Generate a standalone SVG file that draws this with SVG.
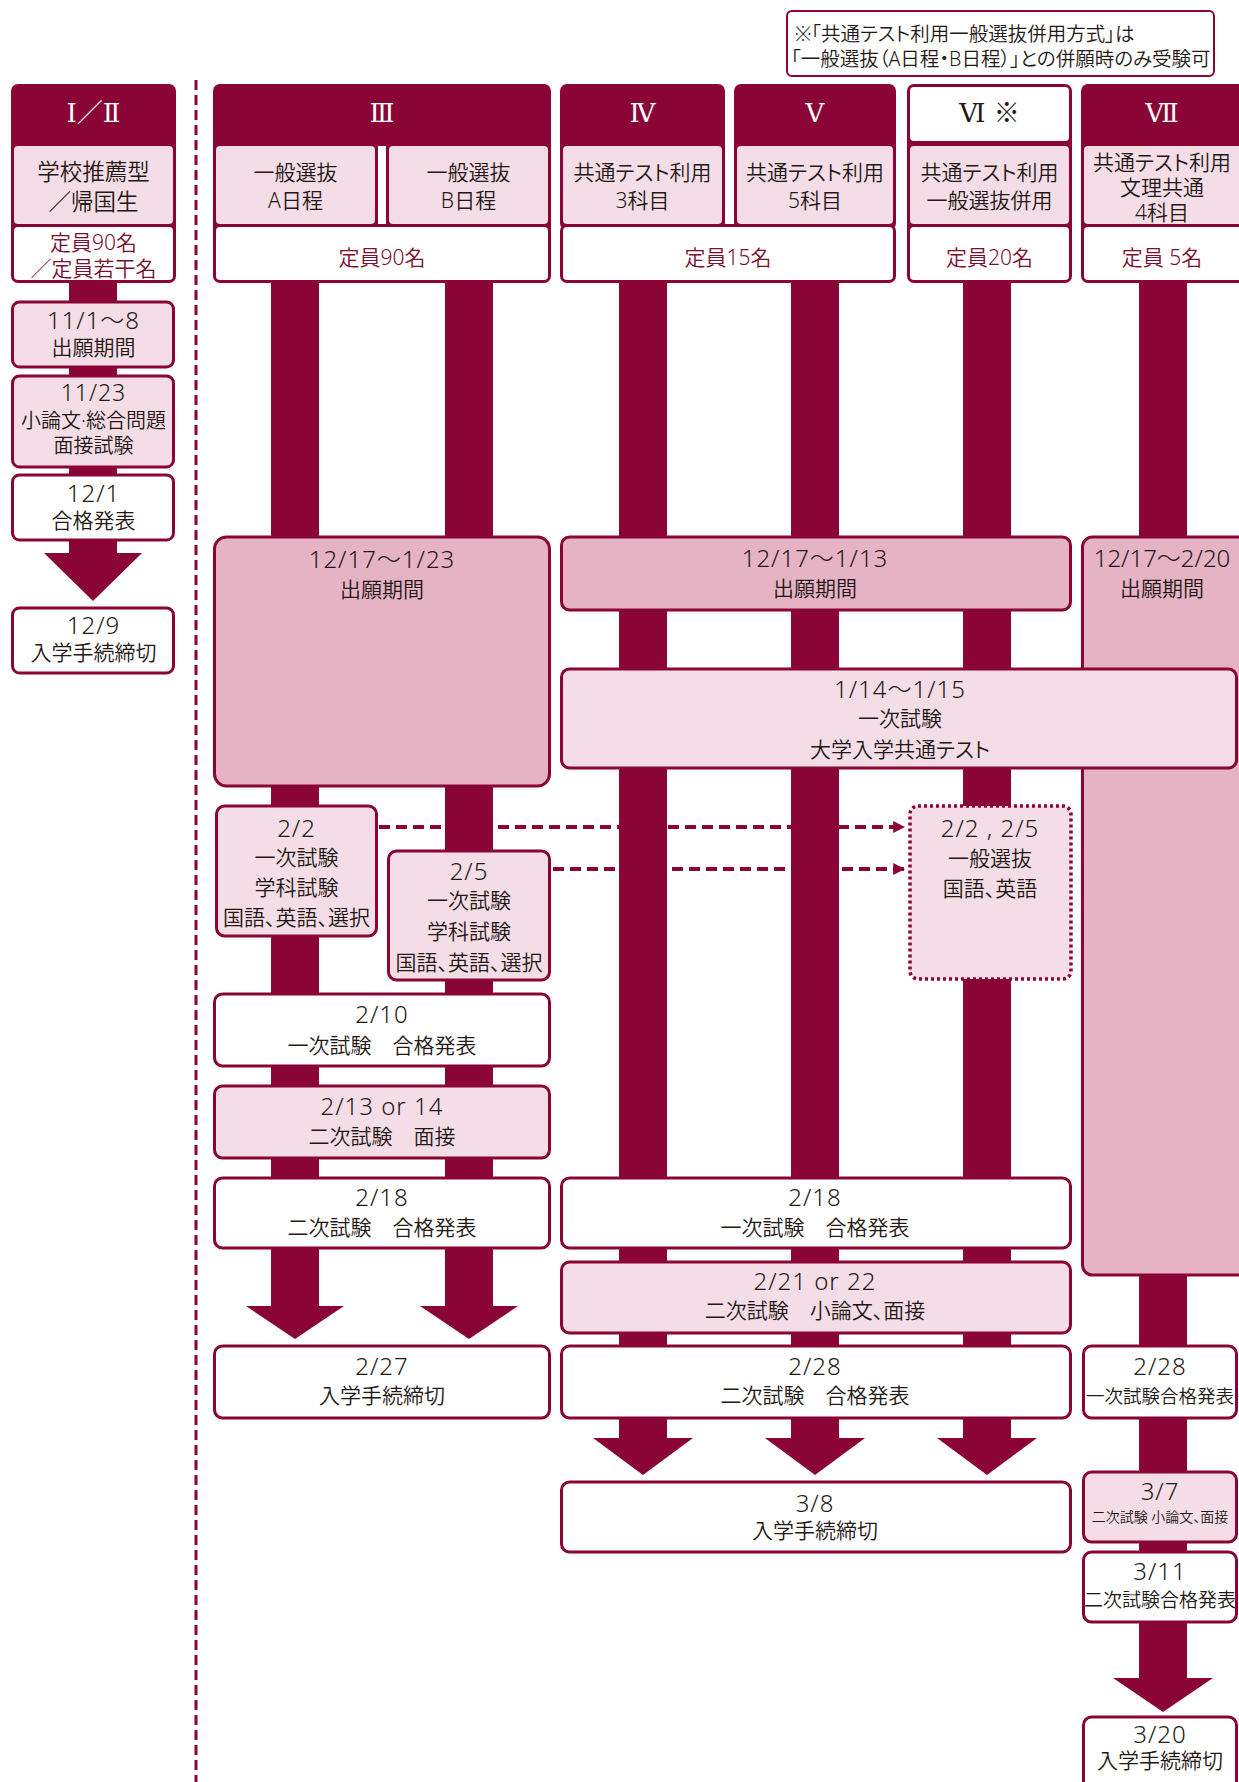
<svg xmlns="http://www.w3.org/2000/svg" width="1239" height="1782" viewBox="0 0 1239 1782">
<defs>
<style>
.dk{fill:#8a0535}
.b{stroke:#8a0535;stroke-width:3}
.w{fill:#ffffff}
.lp{fill:#f4dde6}
.dp{fill:#e6b3c5}
.t{font-family:'Noto Sans','Noto Sans CJK JP',sans-serif;font-size:21px;font-weight:350;fill:#231815;text-anchor:middle;dominant-baseline:central;font-feature-settings:"palt"}
.d{font-size:24px;font-weight:300;letter-spacing:1px}
.cap{fill:#7a1030;font-size:21px}
.h{font-family:'DejaVu Serif','Liberation Serif','Noto Sans CJK JP',serif;font-size:26px;font-weight:400;fill:#ffffff;letter-spacing:0}
.hd{fill:#231815}
.note{font-family:'Noto Sans','Noto Sans CJK JP',sans-serif;font-size:19.5px;font-weight:350;fill:#231815;dominant-baseline:central;font-feature-settings:"palt"}
.dash{stroke:#8a0535;stroke-width:4;stroke-dasharray:11 6;fill:none}
</style>
<marker id="ah" viewBox="0 0 10 10" refX="9" refY="5" markerWidth="3" markerHeight="3" orient="auto" markerUnits="strokeWidth">
<path d="M0,0 L10,5 L0,10 Z" fill="#8a0535"/>
</marker>
</defs>
<rect x="0" y="0" width="1239" height="1782" fill="#ffffff"/>

<g id="divider">
<line x1="196" y1="80" x2="196" y2="1782" stroke="#8a0535" stroke-width="3" stroke-dasharray="10 5"/>
</g>

<g id="connectors">
<line class="dash" x1="379" y1="827" x2="904" y2="827" marker-end="url(#ah)"/>
<line class="dash" x1="553" y1="869" x2="904" y2="869" marker-end="url(#ah)"/>
<g class="dk">
<rect x="69" y="280" width="48" height="276"/>
<path d="M44,553 L142,553 L93,601 Z"/>
<rect x="271" y="280" width="48" height="1028"/>
<path d="M246,1306 L344,1306 L295,1339 Z"/>
<rect x="445" y="280" width="48" height="1028"/>
<path d="M420,1306 L518,1306 L469,1339 Z"/>
<rect x="619" y="280" width="48" height="1160"/>
<path d="M593,1438 L693,1438 L643,1475 Z"/>
<rect x="791" y="280" width="48" height="1160"/>
<path d="M765,1438 L865,1438 L815,1475 Z"/>
<rect x="963" y="280" width="48" height="1160"/>
<path d="M937,1438 L1037,1438 L987,1475 Z"/>
<rect x="1139" y="280" width="48" height="1400"/>
<path d="M1113,1678 L1213,1678 L1163,1712 Z"/>
</g>
</g>

<g id="note">
<rect x="787" y="11" width="427" height="65" rx="5" fill="#ffffff" stroke="#8a0535" stroke-width="2"/>
<text class="note" x="795" y="33">※「共通テスト利用一般選抜併用方式」は</text>
<text class="note" x="791" y="58">「一般選抜（A日程・B日程）」との併願時のみ受験可</text>
</g>

<g id="col-1-2">
<rect class="dk" x="11" y="84" width="165" height="199" rx="7"/>
<rect class="lp" x="14" y="146" width="159" height="78" rx="4"/>
<rect class="w" x="14" y="227" width="159" height="53" rx="4"/>
<text class="t h" x="93.5" y="113">Ⅰ／Ⅱ</text>
<text class="t" x="93.5" y="171" style="font-size:22.5px">学校推薦型</text>
<text class="t" x="93.5" y="201" style="font-size:22.5px">／帰国生</text>
<text class="t cap" x="93.5" y="242">定員90名</text>
<text class="t cap" x="93.5" y="268">／定員若干名</text>
</g>

<g id="col-3">
<rect class="dk" x="213" y="84" width="338" height="199" rx="7"/>
<rect class="lp" x="216" y="146" width="159" height="78" rx="4"/>
<rect class="w" x="378" y="146" width="8" height="78"/>
<rect class="lp" x="389" y="146" width="159" height="78" rx="4"/>
<rect class="w" x="216" y="227" width="332" height="53" rx="4"/>
<text class="t h" x="382" y="113">Ⅲ</text>
<text class="t" x="295.5" y="172">一般選抜</text>
<text class="t" x="295.5" y="200">A日程</text>
<text class="t" x="468.5" y="172">一般選抜</text>
<text class="t" x="468.5" y="200">B日程</text>
<text class="t cap" x="382" y="257">定員90名</text>
</g>

<g id="col-4-5">
<rect class="dk" x="560" y="84" width="165" height="146" rx="7"/>
<rect class="dk" x="734" y="84" width="162" height="146" rx="7"/>
<rect class="dk" x="560" y="224" width="336" height="59" rx="7"/>
<rect class="lp" x="563" y="146" width="159" height="78" rx="4"/>
<rect class="lp" x="737" y="146" width="156" height="78" rx="4"/>
<rect class="w" x="563" y="227" width="330" height="53" rx="4"/>
<text class="t h" x="642.5" y="113">Ⅳ</text>
<text class="t h" x="815" y="113">Ⅴ</text>
<text class="t" x="642.5" y="172">共通テスト利用</text>
<text class="t" x="642.5" y="200">3科目</text>
<text class="t" x="815" y="172">共通テスト利用</text>
<text class="t" x="815" y="200">5科目</text>
<text class="t cap" x="728" y="257">定員15名</text>
</g>

<g id="col-6">
<rect class="dk" x="907" y="84" width="165" height="199" rx="7"/>
<rect class="w" x="910" y="87" width="159" height="54" rx="4"/>
<rect class="lp" x="910" y="146" width="159" height="78" rx="4"/>
<rect class="w" x="910" y="227" width="159" height="53" rx="4"/>
<text class="t h hd" x="989.5" y="113">Ⅵ ※</text>
<text class="t" x="989.5" y="172">共通テスト利用</text>
<text class="t" x="989.5" y="200">一般選抜併用</text>
<text class="t cap" x="989.5" y="257">定員20名</text>
</g>

<g id="col-7">
<rect class="dk" x="1081" y="84" width="170" height="199" rx="7"/>
<rect class="lp" x="1084" y="146" width="170" height="78" rx="4"/>
<rect class="w" x="1084" y="227" width="170" height="53" rx="4"/>
<text class="t h" x="1162" y="113">Ⅶ</text>
<text class="t" x="1162" y="162">共通テスト利用</text>
<text class="t" x="1162" y="187">文理共通</text>
<text class="t" x="1162" y="212">4科目</text>
<text class="t cap" x="1162" y="257" xml:space="preserve">定員 5名</text>
</g>

<g id="n-11-1">
<rect class="lp b" x="12.5" y="302" width="161" height="65" rx="7"/>
<text class="t d" x="93.5" y="319">11/1～8</text>
<text class="t" x="93.5" y="347">出願期間</text>
</g>
<g id="n-11-23">
<rect class="lp b" x="12.5" y="376" width="161" height="91" rx="7"/>
<text class="t d" x="93.5" y="392" style="font-size:23px">11/23</text>
<text class="t" x="93.5" y="420" style="font-size:20px">小論文·総合問題</text>
<text class="t" x="93.5" y="445" style="font-size:20px">面接試験</text>
</g>
<g id="n-12-1">
<rect class="w b" x="12.5" y="475" width="161" height="65" rx="7"/>
<text class="t d" x="93.5" y="492">12/1</text>
<text class="t" x="93.5" y="520">合格発表</text>
</g>
<g id="n-12-9">
<rect class="w b" x="12.5" y="608" width="161" height="65" rx="7"/>
<text class="t d" x="93.5" y="624">12/9</text>
<text class="t" x="93.5" y="652">入学手続締切</text>
</g>

<g id="n-3-apply">
<rect class="dp b" x="214.5" y="537" width="335" height="249" rx="12"/>
<text class="t d" x="382" y="558">12/17～1/23</text>
<text class="t" x="382" y="589">出願期間</text>
</g>
<g id="n-4-6-apply">
<rect class="dp b" x="561.5" y="537" width="509" height="73" rx="8"/>
<text class="t d" x="815" y="557">12/17～1/13</text>
<text class="t" x="815" y="588">出願期間</text>
</g>
<g id="n-7-apply">
<rect class="dp b" x="1082.5" y="537" width="170" height="738" rx="10"/>
<text class="t d" x="1162" y="557" style="letter-spacing:0">12/17～2/20</text>
<text class="t" x="1162" y="588">出願期間</text>
</g>
<g id="n-common-test">
<rect class="lp b" x="561.5" y="669" width="675" height="99" rx="8"/>
<text class="t d" x="900" y="688">1/14～1/15</text>
<text class="t" x="900" y="718">一次試験</text>
<text class="t" x="900" y="749">大学入学共通テスト</text>
</g>

<g id="n-2-2">
<rect class="lp b" x="216.5" y="806" width="160" height="130" rx="8"/>
<text class="t d" x="296.5" y="827">2/2</text>
<text class="t" x="296.5" y="857">一次試験</text>
<text class="t" x="296.5" y="887">学科試験</text>
<text class="t" x="296.5" y="917">国語、英語、選択</text>
</g>
<g id="n-2-5">
<rect class="lp b" x="388.5" y="851" width="161" height="129" rx="8"/>
<text class="t d" x="469" y="870">2/5</text>
<text class="t" x="469" y="900">一次試験</text>
<text class="t" x="469" y="931">学科試験</text>
<text class="t" x="469" y="962">国語、英語、選択</text>
</g>
<g id="n-6-general">
<rect class="lp" x="910" y="806" width="161" height="173" rx="8" stroke="#8a0535" stroke-width="3.5" stroke-dasharray="3 3"/>
<text class="t d" x="990" y="827" xml:space="preserve">2/2 , 2/5</text>
<text class="t" x="990" y="858">一般選抜</text>
<text class="t" x="990" y="888">国語、英語</text>
</g>

<g id="n-2-10">
<rect class="w b" x="214.5" y="994" width="335" height="72" rx="8"/>
<text class="t d" x="382" y="1013">2/10</text>
<text class="t" x="382" y="1045">一次試験　合格発表</text>
</g>
<g id="n-2-13">
<rect class="lp b" x="214.5" y="1086" width="335" height="72" rx="8"/>
<text class="t d" x="382" y="1105" xml:space="preserve">2/13 or 14</text>
<text class="t" x="382" y="1136">二次試験　面接</text>
</g>
<g id="n-3-2-18">
<rect class="w b" x="214.5" y="1178" width="335" height="70" rx="8"/>
<text class="t d" x="382" y="1196">2/18</text>
<text class="t" x="382" y="1227">二次試験　合格発表</text>
</g>
<g id="n-2-27">
<rect class="w b" x="214.5" y="1346" width="335" height="72" rx="8"/>
<text class="t d" x="382" y="1365">2/27</text>
<text class="t" x="382" y="1395">入学手続締切</text>
</g>

<g id="n-4-2-18">
<rect class="w b" x="561.5" y="1178" width="509" height="70" rx="8"/>
<text class="t d" x="815" y="1196">2/18</text>
<text class="t" x="815" y="1227">一次試験　合格発表</text>
</g>
<g id="n-2-21">
<rect class="lp b" x="561.5" y="1262" width="509" height="71" rx="8"/>
<text class="t d" x="815" y="1280" xml:space="preserve">2/21 or 22</text>
<text class="t" x="815" y="1310">二次試験　小論文、面接</text>
</g>
<g id="n-4-2-28">
<rect class="w b" x="561.5" y="1346" width="509" height="72" rx="8"/>
<text class="t d" x="815" y="1365">2/28</text>
<text class="t" x="815" y="1395">二次試験　合格発表</text>
</g>
<g id="n-3-8">
<rect class="w b" x="561.5" y="1482" width="509" height="70" rx="8"/>
<text class="t d" x="815" y="1502">3/8</text>
<text class="t" x="815" y="1530">入学手続締切</text>
</g>

<g id="n-7-2-28">
<rect class="w b" x="1083.5" y="1346" width="153" height="72" rx="8"/>
<text class="t d" x="1160" y="1365">2/28</text>
<text class="t" x="1160" y="1395" style="font-size:18.5px">一次試験合格発表</text>
</g>
<g id="n-3-7">
<rect class="lp b" x="1083.5" y="1472" width="153" height="70" rx="8"/>
<text class="t d" x="1160" y="1490">3/7</text>
<text class="t" x="1160" y="1516" style="font-size:14px">二次試験 小論文、面接</text>
</g>
<g id="n-3-11">
<rect class="w b" x="1083.5" y="1552" width="153" height="70" rx="8"/>
<text class="t d" x="1160" y="1570">3/11</text>
<text class="t" x="1160" y="1600" style="font-size:19px">二次試験合格発表</text>
</g>
<g id="n-3-20">
<rect class="w b" x="1083.5" y="1717" width="153" height="80" rx="8"/>
<text class="t d" x="1160" y="1733">3/20</text>
<text class="t" x="1160" y="1760">入学手続締切</text>
</g>
</svg>
